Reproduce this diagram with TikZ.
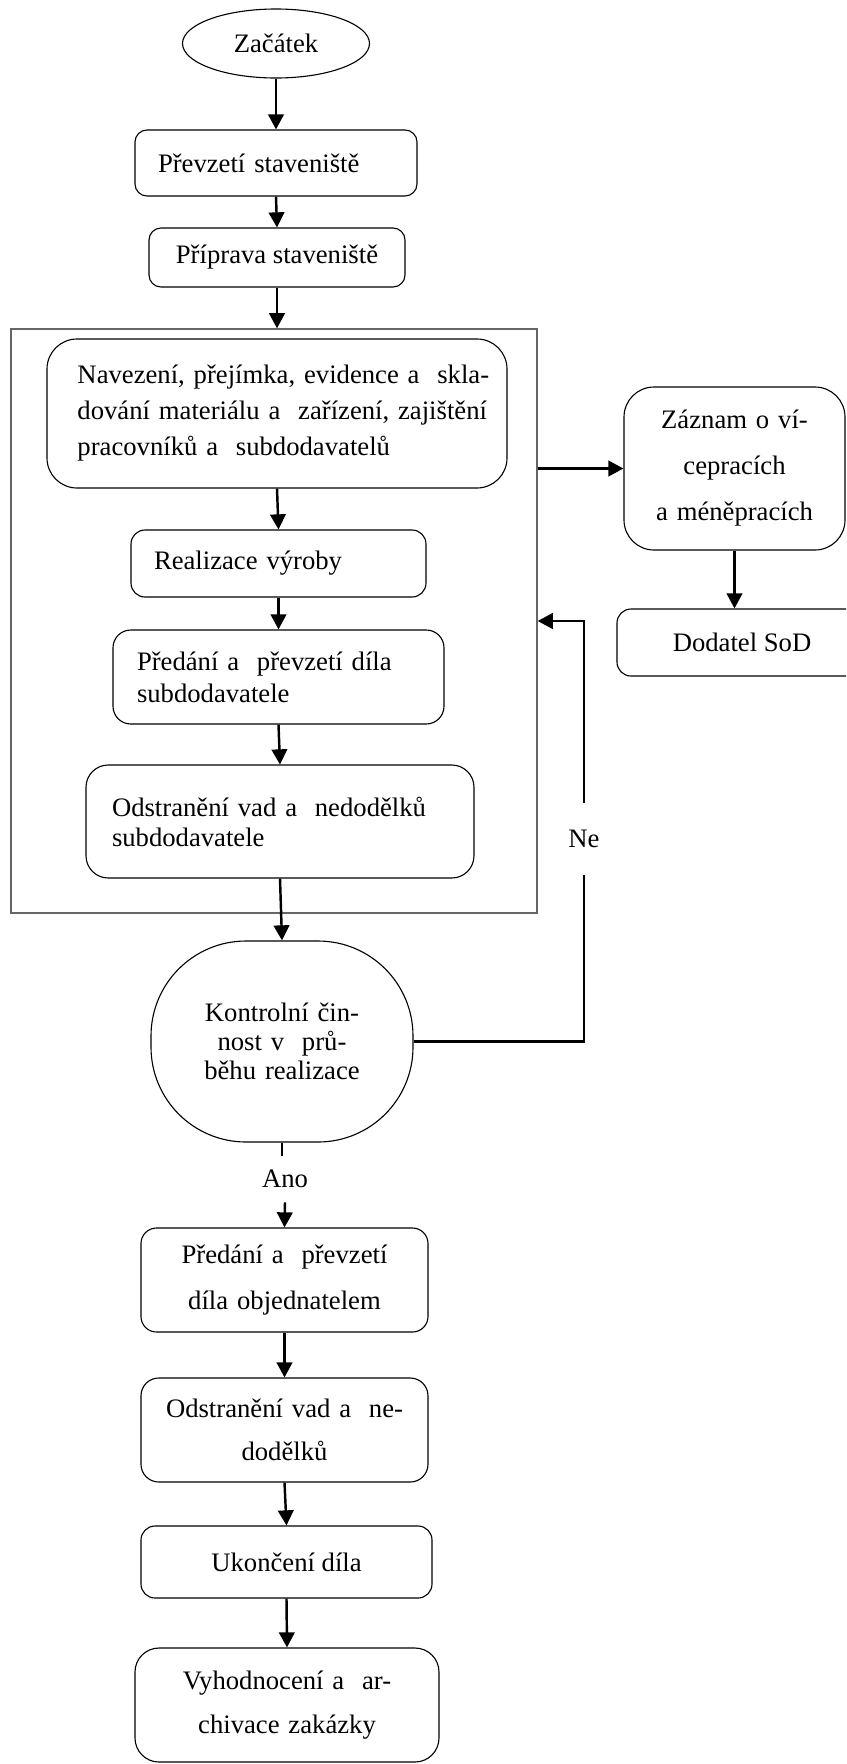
\documentclass[tikz,border=0pt]{standalone}
\usepackage{fontspec}
\setmainfont{Liberation Serif}
\usetikzlibrary{arrows.meta,shapes.geometric}
\begin{document}
\begin{tikzpicture}[x=0.45pt,y=-0.45pt,
  every node/.style={font=\fontsize{12pt}{14.4pt}\selectfont},
  rbox/.style={draw, line width=0.5pt, rounded corners=#1, inner ysep=0pt},
  rbox/.default=5.4pt,
  conn/.style={line width=1.1pt},
  arr/.style={conn, -{Triangle[length=6.8pt,width=7pt]}},
]
\useasboundingbox (0,0) rectangle (846,1764);
\clip (0,0) rectangle (846,1764);

\node[draw, ellipse, line width=0.5pt, minimum width=84.15pt, minimum height=31.05pt, inner sep=0pt] (start) at (276,43.5) {Začátek};

\node[rbox, minimum width=126.9pt, minimum height=29.7pt, inner xsep=10.35pt, text width=106.2pt, align=left] (prevzeti) at (276,163) {Převzetí staveniště};

\node[rbox, minimum width=115.2pt, minimum height=26.55pt] (priprava) at (277,257.5) {Příprava staveniště};

\node[draw=black!60, line width=0.6pt, minimum width=236.7pt, minimum height=262.8pt, inner sep=0pt] (outer) at (274,621) {};

\node[rbox=13.5pt, minimum width=207pt, minimum height=67.05pt, inner xsep=13.05pt, text width=179.55pt, align=left, font=\fontsize{12pt}{16.2pt}\selectfont] (navezeni) at (277,413.5) {\makebox[179.55pt][s]{Navezení, přejímka, evidence a\ \ skla-}\\\makebox[179.55pt][s]{dování materiálu a\ \ zařízení, zajištění}\\pracovníků a\ \ subdodavatelů};

\node[rbox=6.3pt, minimum width=132.75pt, minimum height=30.15pt, inner xsep=10.35pt, text width=112.05pt, align=left] (realizace) at (278.5,563.5) {Realizace výroby};

\node[rbox=8pt, minimum width=148.95pt, minimum height=42.3pt, inner xsep=10.8pt, text width=127.35pt, align=left, font=\fontsize{12pt}{14.4pt}\selectfont] (predsub) at (278.5,677) {Předání a\ \ převzetí díla\\subdodavatele};

\node[rbox=10pt, minimum width=174.6pt, minimum height=50.85pt, inner xsep=11.7pt, text width=151.2pt, align=left, font=\fontsize{12pt}{13.5pt}\selectfont] (odstrsub) at (280,821.5) {Odstranění vad a\ \ nedodělků\\subdodavatele};

\node[draw, line width=0.5pt, rounded corners=42.75pt, minimum width=117.9pt, minimum height=90.45pt, inner sep=0pt, text width=100pt, align=center, font=\fontsize{12pt}{13pt}\selectfont] (kontrol) at (282,1041.5) {Kontrolní čin-\\nost v\ \ prů-\\běhu realizace};

\node[rbox=7pt, minimum width=129.15pt, minimum height=46.8pt, text width=115pt, align=center, font=\fontsize{12pt}{20.7pt}\selectfont] (predobj) at (284.5,1280) {Předání a\ \ převzetí\\díla objednatelem};

\node[rbox=8pt, minimum width=129.15pt, minimum height=46.8pt, text width=115pt, align=center, font=\fontsize{12pt}{19.4pt}\selectfont] (odstr) at (284.5,1430) {Odstranění vad a\ \ ne-\\dodělků};

\node[rbox=6.3pt, minimum width=130.95pt, minimum height=32.4pt] (ukonceni) at (286.5,1562) {Ukončení díla};

\node[rbox=10.8pt, minimum width=136.8pt, minimum height=51.3pt, text width=120pt, align=center, font=\fontsize{12pt}{19.8pt}\selectfont] (vyhod) at (287,1705) {Vyhodnocení a\ \ ar-\\chivace zakázky};

\node[rbox=13.5pt, minimum width=99.45pt, minimum height=73.35pt, text width=90pt, align=center, font=\fontsize{12pt}{20.7pt}\selectfont] (zaznam) at (734.5,468.5) {Záznam o ví-\\cepracích\\a méněpracích};

\node[rbox=6.3pt, minimum width=112.5pt, minimum height=30.15pt] (dodatel) at (742,642.5) {Dodatel SoD};

\node[inner sep=0pt, minimum height=32.4pt] (ne) at (584,839) {Ne};
\node[inner sep=0pt, minimum height=20.7pt] (ano) at (285,1179) {Ano};

\draw[arr] (start.south) -- (prevzeti.north);
\draw[arr] (prevzeti.south) -- (priprava.north);
\draw[arr] (priprava.south) -- (priprava.south |- outer.north);
\draw[arr] (navezeni.south) -- (realizace.north);
\draw[arr] (realizace.south) -- (predsub.north);
\draw[arr] (predsub.south) -- (odstrsub.north);
\draw[arr] (odstrsub.south) -- (kontrol.north);
\draw[arr] (outer.east |- zaznam.west) -- (zaznam.west);
\draw[arr] (zaznam.south) -- (zaznam.south |- dodatel.north);
\draw[conn] (kontrol.east) -| (ne.south);
\draw[arr] (ne.north) |- (outer.east);
\draw[conn] (kontrol.south) -- (kontrol.south |- ano.north);
\draw[arr] (ano.south) -- (predobj.north);
\draw[arr] (predobj.south) -- (odstr.north);
\draw[arr] (odstr.south) -- (ukonceni.north);
\draw[arr] (ukonceni.south) -- (vyhod.north);
\end{tikzpicture}
\end{document}
